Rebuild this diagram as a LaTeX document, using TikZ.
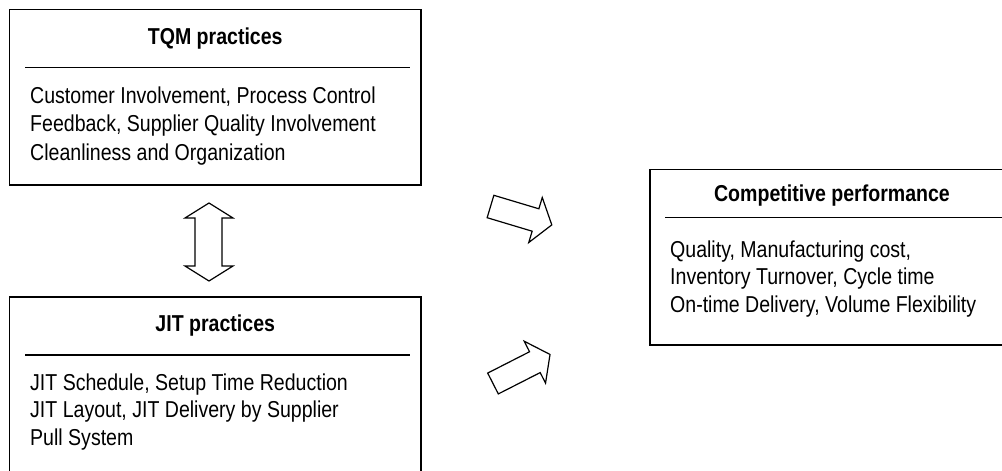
\documentclass[tikz,border=0pt]{standalone}
\usepackage{fontspec}
\setmainfont[FakeStretch=0.85]{Liberation Sans}
\begin{document}
\begin{tikzpicture}[x=1pt,y=-1pt,
  box/.style={draw=black,line width=1.3pt,inner sep=0pt,outer sep=0pt},
  sepline/.style={draw=black,line width=1.2pt},
  titletext/.style={font=\fontsize{23}{27.5}\selectfont\bfseries,inner sep=0pt},
  bodytext/.style={font=\fontsize{23}{27.5}\selectfont,inner sep=0pt,align=left,anchor=north west},
  blockline/.style={draw=black,line width=1.2pt,line join=miter,fill=white},
  blockarr/.pic={\path[blockline] (0,-11.7) -- (47,-11.7) -- (47,-23.5) -- (64,0) -- (47,23.5) -- (47,11.7) -- (0,11.7) -- cycle;}
]
\useasboundingbox (0,0) rectangle (1002,471);
\clip (0,0) rectangle (1002,471);
% TQM box
\node[box,minimum width=411.5pt,minimum height=175.5pt] (tqm) at (215.25,97.25) {};
\node[titletext,anchor=base] (tqmt) at (215.25,44) {TQM practices};
\draw[sepline] ([shift={(15.5,58.2)}]tqm.north west) -- ([shift={(-11,58.2)}]tqm.north east);
\node[bodytext,font=\fontsize{23}{28.7}\selectfont] (tqmb) at (30,86.2) {Customer Involvement, Process Control\\Feedback, Supplier Quality Involvement\\Cleanliness and Organization};
% JIT box
\node[box,minimum width=411.5pt,minimum height=193pt] (jit) at (215.25,393.5) {};
\node[titletext,anchor=base] (jitt) at (215.25,331.7) {JIT practices};
\draw[sepline] ([shift={(15.5,58)}]jit.north west) -- ([shift={(-11,58)}]jit.north east);
\node[bodytext] (jitb) at (30,373.5) {JIT Schedule, Setup Time Reduction\\JIT Layout, JIT Delivery by Supplier\\Pull System};
% Competitive performance box (runs past the right edge)
\node[box,minimum width=390pt,minimum height=175.7pt] (cp) at (845,257.15) {};
\node[titletext,anchor=base] (cpt) at (832,201.7) {Competitive performance};
\draw[sepline] ([shift={(15,48.4)}]cp.north west) -- ([shift={(-10,48.4)}]cp.north east);
\node[bodytext] (cpb) at (670,240.2) {Quality, Manufacturing cost,\\Inventory Turnover, Cycle time\\On-time Delivery, Volume Flexibility};
% double arrow between TQM and JIT
\coordinate (datop) at (209,203);
\coordinate (dabot) at (209,281);
\path[blockline] (195,218) -- (185,218) -- (datop) -- (233,218) -- (222,218) -- (222,266) -- (233,266) -- (dabot) -- (185,266) -- (195,266) -- cycle;
% block arrows towards competitive performance
\pic[rotate=-16.7] (arrup) at (490.5,206.5) {blockarr};
\pic[rotate=27] (arrdown) at (493,383.5) {blockarr};
\end{tikzpicture}
\end{document}
